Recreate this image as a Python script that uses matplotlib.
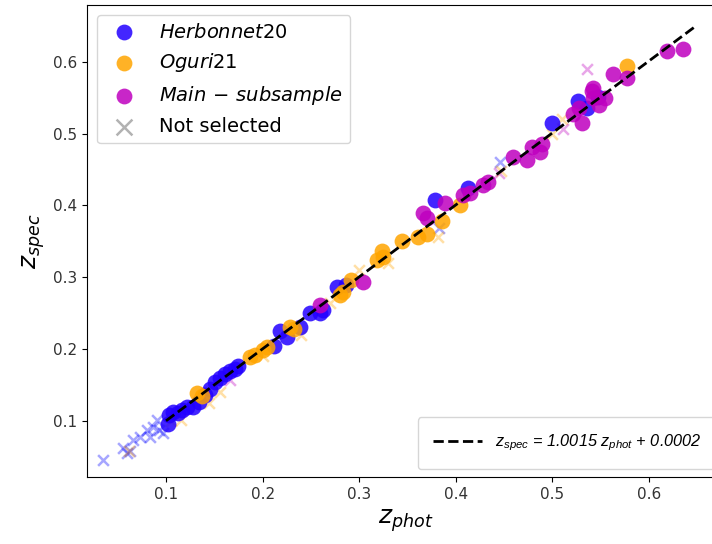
import numpy as np
import matplotlib
matplotlib.use('Agg')
import matplotlib.pyplot as plt
from matplotlib.lines import Line2D

# selected lenses (z_phot, z_spec)
herb_phot = [0.102, 0.103, 0.107, 0.112, 0.117, 0.122, 0.128, 0.134, 0.140, 0.146,
             0.151, 0.156, 0.161, 0.166, 0.171, 0.175, 0.212, 0.218, 0.225, 0.239,
             0.249, 0.259, 0.263, 0.277, 0.286, 0.378, 0.413, 0.500, 0.527, 0.536, 0.547]
herb_spec = [0.096, 0.108, 0.113, 0.111, 0.116, 0.119, 0.120, 0.127, 0.136, 0.145,
             0.155, 0.160, 0.166, 0.170, 0.172, 0.177, 0.205, 0.226, 0.217, 0.231,
             0.250, 0.251, 0.255, 0.286, 0.290, 0.407, 0.425, 0.515, 0.546, 0.536, 0.551]

oguri_phot = [0.132, 0.137, 0.187, 0.192, 0.200, 0.205, 0.228, 0.232, 0.280, 0.283,
              0.292, 0.318, 0.325, 0.324, 0.344, 0.361, 0.370, 0.386, 0.404, 0.577]
oguri_spec = [0.139, 0.135, 0.189, 0.192, 0.199, 0.203, 0.231, 0.228, 0.275, 0.280,
              0.296, 0.324, 0.328, 0.337, 0.351, 0.356, 0.361, 0.379, 0.400, 0.594]

main_phot = [0.259, 0.304, 0.366, 0.370, 0.389, 0.407, 0.415, 0.428, 0.433, 0.459,
             0.474, 0.479, 0.489, 0.487, 0.521, 0.531, 0.541, 0.542, 0.554, 0.542,
             0.563, 0.577, 0.619, 0.635, 0.528, 0.548]
main_spec = [0.261, 0.293, 0.389, 0.383, 0.403, 0.414, 0.418, 0.428, 0.432, 0.467,
             0.463, 0.481, 0.486, 0.474, 0.528, 0.515, 0.560, 0.550, 0.549, 0.564,
             0.583, 0.578, 0.615, 0.618, 0.535, 0.540]

# not selected
ns_herb_phot = [0.035, 0.055, 0.060, 0.063, 0.066, 0.073, 0.080, 0.083, 0.087, 0.091,
                0.097, 0.093, 0.383, 0.446]
ns_herb_spec = [0.046, 0.062, 0.056, 0.058, 0.074, 0.078, 0.088, 0.078, 0.092, 0.101,
                0.083, 0.087, 0.368, 0.460]
ns_oguri_phot = [0.115, 0.145, 0.156, 0.105, 0.200, 0.240, 0.270, 0.300, 0.330, 0.382,
                 0.447, 0.500, 0.510, 0.062]
ns_oguri_spec = [0.101, 0.125, 0.140, 0.100, 0.190, 0.220, 0.265, 0.310, 0.320, 0.356,
                 0.448, 0.500, 0.520, 0.058]
ns_main_phot = [0.166, 0.511, 0.536, 0.445]
ns_main_spec = [0.157, 0.507, 0.590, 0.445]

# linear fit
fit_slope = 1.0015
fit_intercept = 0.0002
fit_range = [0.1, 0.648]

fig = plt.figure(figsize=(7.12, 5.44), dpi=100)
# axes runs a bit past the right edge, as in the cropped original
ax = fig.add_axes([0.1222, 0.1232, 0.896, 0.8676])

ax.scatter(ns_herb_phot, ns_herb_spec, marker='x', s=60, c='blue', alpha=0.35, linewidths=1.8)
ax.scatter(ns_oguri_phot, ns_oguri_spec, marker='x', s=60, c='orange', alpha=0.35, linewidths=1.8)
ax.scatter(ns_main_phot, ns_main_spec, marker='x', s=60, c='m', alpha=0.35, linewidths=1.8)

ax.scatter(herb_phot, herb_spec, s=130, c='#2200ff', alpha=0.85, linewidths=0, label=r'$Herbonnet20$')
ax.scatter(oguri_phot, oguri_spec, s=130, c='orange', alpha=0.85, linewidths=0, label=r'$Oguri21$')
ax.scatter(main_phot, main_spec, s=130, c='m', alpha=0.85, linewidths=0, label=r'$Main\,-\,subsample$')
ax.scatter([], [], marker='x', s=130, c='gray', alpha=0.6, linewidths=1.8, label='Not selected')

xf = np.array(fit_range)
ax.plot(xf, fit_slope * xf + fit_intercept, 'k--', lw=2)

leg1 = ax.legend(loc='upper left', fontsize=14)
ax.add_artist(leg1)

fit_handle = Line2D([], [], color='k', ls='--', lw=2)
ax.legend([fit_handle],
          [r'$\mathregular{z_{spec}}$ = 1.0015 $\mathregular{z_{phot}}$ + 0.0002'],
          loc='lower right', borderpad=0.95, handlelength=3.0,
          prop={'family': 'Liberation Sans', 'style': 'italic', 'size': 11.7})

ax.set_xlim(0.0182, 0.6787)
ax.set_ylim(0.0222, 0.679)
ax.set_xticks([0.1, 0.2, 0.3, 0.4, 0.5, 0.6])
ax.set_yticks([0.1, 0.2, 0.3, 0.4, 0.5, 0.6])
ax.tick_params(labelsize=11, labelcolor='#333333')
ax.set_xlabel(r'$z_{phot}$', fontsize=18)
ax.set_ylabel(r'$z_{spec}$', fontsize=18)

fig.savefig('out.png', dpi=100)
